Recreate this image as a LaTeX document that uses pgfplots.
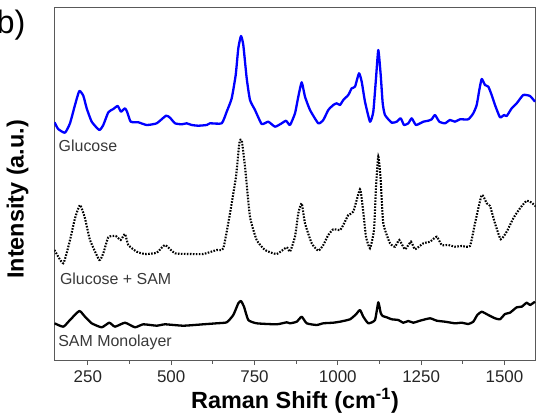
\documentclass[border=0pt]{standalone}
\usepackage{fontspec}
\setmainfont{Liberation Sans}
\usepackage{pgfplots}
\usepackage{pgfplotstable}
\pgfplotsset{compat=1.18}

% Raman spectra, vertically offset (arbitrary intensity units)
\pgfplotstableread{
x y
150 237.7
161 231.0
181.5 227.3
196.5 236.7
211.5 255.0
224.4 269.0
236.4 264.3
246.6 251.7
261.6 238.3
284.4 230.0
296.4 235.0
311.4 247.7
326.4 251.0
339.6 254.0
349.5 248.3
361.5 251.7
368.4 247.7
378.6 238.3
401.4 237.7
426.6 235.0
456.6 236.7
484.5 244.3
496.5 242.3
511.5 236.7
531.6 235.7
546.6 236.7
561.6 235.0
581.4 234.3
606.6 235.0
616.5 236.7
651.6 236.7
666.6 248.3
681.6 261.7
693.6 285.0
701.4 311.7
709.5 324.0
716.4 315.0
726.6 281.7
736.5 260.0
751.5 250.0
771.6 236.0
791.4 238.3
811.5 233.3
831.6 236.7
844.5 239.3
856.5 235.0
871.5 246.7
881.4 263.3
891.6 277.7
901.5 263.3
916.5 250.0
941.4 236.7
956.4 240.0
971.4 250.0
986.4 255.0
996.6 256.7
1006.5 255.0
1016.4 260.0
1031.4 265.0
1041.6 271.7
1051.5 273.3
1063.5 286.7
1071.6 278.3
1081.5 258.3
1096.5 238.3
1106.4 248.3
1114.5 281.7
1121.4 310.0
1128.6 285.0
1134.6 256.7
1141.5 245.0
1161.6 237.3
1176.6 238.3
1188.6 241.7
1198.5 235.0
1211.4 236.7
1221.6 241.7
1234.5 235.0
1256.4 238.3
1271.4 239.3
1281.6 240.7
1291.5 245.0
1304.4 238.3
1321.5 236.7
1336.5 240.0
1351.5 238.3
1366.5 240.7
1391.4 240.7
1406.4 246.7
1416.6 255.0
1424.4 270.0
1431.6 281.0
1441.5 275.0
1451.5 273.3
1461.5 265.0
1471.5 255.0
1486.5 242.7
1498.5 245.0
1506.6 244.0
1521.6 251.7
1536.6 256.7
1556.4 265.0
1576.5 264.0
1591.5 258.3
}\glucose

\pgfplotstableread{
x y
150 110.0
176.4 96.7
196.5 120.0
211.5 141.7
226.5 155.0
241.5 141.7
256.5 120.0
284.4 100.0
296.4 106.7
311.4 122.7
333.6 124.0
348.6 120.0
361.5 126.0
371.4 115.0
396.6 108.3
421.5 106.0
456.6 107.3
481.5 115.0
511.5 106.7
556.5 106.0
596.4 106.0
636.6 110.0
656.4 111.7
676.5 146.7
694.5 183.3
704.4 216.7
711.6 220.0
721.5 193.3
736.5 143.3
756.6 120.0
781.5 110.0
816.6 106.0
846.6 112.7
856.5 108.3
871.5 123.3
881.4 146.7
891.6 156.7
901.5 136.7
921.6 116.7
941.4 109.3
956.4 115.0
971.4 125.0
986.4 130.7
1006.5 130.0
1016.4 135.0
1031.4 145.0
1046.4 148.3
1066.5 170.7
1074.6 153.3
1084.5 123.3
1096.5 111.7
1108.5 130.0
1114.5 173.3
1121.4 203.3
1128.6 180.0
1136.4 136.7
1156.5 116.7
1171.5 113.3
1184.4 120.0
1201.5 110.7
1219.5 118.3
1231.5 110.7
1256.4 116.7
1276.5 118.3
1296.6 123.3
1311.6 115.0
1331.4 115.0
1351.5 113.3
1371.6 114.0
1396.5 114.0
1411.5 136.7
1431.6 165.0
1446.6 156.7
1456.5 154.0
1471.5 136.7
1488.6 120.7
1506.6 128.3
1526.4 141.7
1546.5 151.7
1566.6 159.3
1581.6 157.3
1594.5 153.3
}\glucosesam

\pgfplotstableread{
x y
150 36.7
176.4 33.3
196.5 40.0
224.4 49.0
241.5 43.3
261.6 36.7
291.6 32.7
314.4 37.3
331.5 33.3
361.5 37.3
391.5 32.7
416.4 35.7
456.6 34.3
481.5 35.7
536.4 34.3
596.4 35.7
636.6 36.7
666.6 37.7
686.4 45.0
701.4 56.7
709.5 59.0
718.5 53.3
731.4 40.0
756.6 36.7
816.6 35.7
846.6 37.7
856.5 36.7
876.6 38.3
891.6 43.3
906.6 36.7
936.6 35.0
956.4 36.7
986.4 37.3
1006.5 38.3
1036.5 40.7
1054.5 45.7
1066.5 50.0
1076.4 43.3
1091.4 36.7
1111.5 40.0
1121.4 57.7
1128.6 47.0
1134.6 44.0
1146.6 42.7
1161.6 40.7
1181.4 40.0
1196.4 37.3
1211.4 39.0
1226.4 37.3
1246.5 39.3
1276.5 41.7
1296.6 39.3
1321.5 38.3
1351.5 36.7
1371.6 37.3
1391.4 36.0
1406.4 38.3
1418.4 45.0
1431.6 48.3
1451.4 45.0
1471.5 41.7
1486.5 40.7
1501.5 46.0
1516.5 47.3
1536.6 52.7
1551.6 53.3
1566.6 57.3
1576.5 55.0
1591.5 58.3
}\sam

\definecolor{spine}{gray}{0.35}
\definecolor{annot}{gray}{0.22}

\begin{document}
\begin{tikzpicture}
\begin{axis}[
  name=main,
  scale only axis,
  width=481bp, height=353bp,
  xmin=150, xmax=1593,
  ymin=0, ymax=353,
  xtick={250,500,750,1000,1250,1500},
  minor xtick={375,625,875,1125,1375},
  ytick=\empty,
  xtick pos=left,
  tick align=outside,
  major tick length=5bp,
  minor tick length=3.5bp,
  axis line style={spine, line width=0.8bp},
  every tick/.style={spine, line width=0.8bp},
  /pgf/number format/assume math mode=true,
  /pgf/number format/1000 sep={},
  xticklabel style={font=\fontsize{17}{20}\selectfont, text=black!85, yshift=-2.5bp},
  xlabel={\textbf{Raman Shift (cm\textsuperscript{-1})}},
  xlabel style={font=\fontsize{23.5}{26}\selectfont, at={(axis description cs:0.5,-0.136)}, anchor=base},
  ylabel={\textbf{Intensity (a.u.)}},
  ylabel style={font=\fontsize{23.5}{26}\selectfont, at={(axis description cs:-0.0644,0.455)}, anchor=base, rotate=0},
  clip=true,
]
\addplot[blue, line width=2.3bp, line join=round, smooth, tension=0.3] table[x=x, y=y] {\glucose};
\addplot[black, line width=2.1bp, dash pattern=on 1.6bp off 1.4bp, smooth, tension=0.3] table[x=x, y=y] {\glucosesam};
\addplot[black, line width=2.3bp, line join=round, smooth, tension=0.3] table[x=x, y=y] {\sam};

\node[anchor=base west, text=annot, font=\fontsize{16}{18}\selectfont, inner sep=0pt] at (axis cs:162,208.7) {Glucose};
\node[anchor=base west, text=annot, font=\fontsize{16}{18}\selectfont, inner sep=0pt] at (axis cs:166,76) {Glucose + SAM};
\node[anchor=base west, text=annot, font=\fontsize{16}{18}\selectfont, inner sep=0pt] at (axis cs:161,13.7) {SAM Monolayer};
\end{axis}
\node[anchor=base east, font=\fontsize{32.5}{36}\selectfont, inner sep=0pt] at ([xshift=-29bp,yshift=-26.8bp]main.north west) {b)};
\pgfresetboundingbox
\path[use as bounding box] ([xshift=-54.5bp,yshift=-54bp]main.south west) rectangle ([xshift=0.5bp,yshift=7bp]main.north east);
\end{tikzpicture}
\end{document}
